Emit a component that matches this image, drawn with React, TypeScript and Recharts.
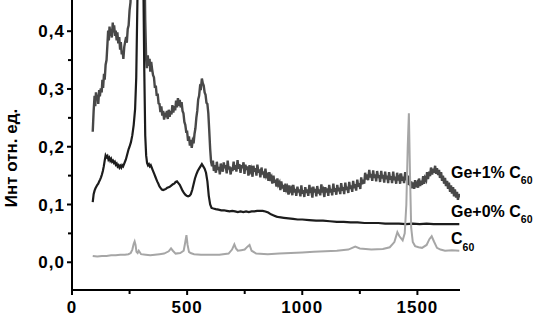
import { LineChart, Line, XAxis, YAxis } from "recharts";

// Raman spectra, x = wavenumber (cm-1), y = relative intensity
const GE1: [number, number][] = [
  [90, 0.226], [94, 0.262], [98, 0.288], [101, 0.27], [104, 0.294], [108, 0.281], [111, 0.29], [114, 0.274],
  [118, 0.298], [121, 0.287], [125, 0.301], [129, 0.294], [132, 0.316], [135, 0.302], [139, 0.326], [142, 0.316],
  [146, 0.342], [150, 0.35], [154, 0.378], [157, 0.401], [160, 0.384], [163, 0.408], [167, 0.392], [170, 0.404],
  [173, 0.389], [177, 0.415], [180, 0.398], [183, 0.41], [187, 0.392], [190, 0.401], [194, 0.384], [197, 0.398],
  [201, 0.379], [205, 0.39], [209, 0.368], [212, 0.381], [216, 0.36], [220, 0.366], [223, 0.352], [227, 0.373],
  [231, 0.382], [235, 0.39], [238, 0.38], [242, 0.404], [246, 0.41], [250, 0.436], [254, 0.45], [258, 0.5],
  [266, 0.62], [280, 0.85], [295, 1.0], [305, 0.9], [312, 0.6], [318, 0.42], [322, 0.352], [325, 0.336],
  [329, 0.358], [333, 0.34], [337, 0.352], [340, 0.33], [344, 0.347], [348, 0.334], [352, 0.324], [356, 0.32],
  [360, 0.302], [364, 0.306], [368, 0.288], [372, 0.292], [376, 0.275], [380, 0.274], [384, 0.26], [388, 0.27],
  [392, 0.254], [396, 0.262], [400, 0.247], [404, 0.259], [408, 0.251], [412, 0.262], [416, 0.248], [420, 0.264],
  [424, 0.252], [428, 0.262], [432, 0.256], [436, 0.272], [440, 0.259], [444, 0.27], [448, 0.263], [452, 0.28],
  [456, 0.268], [460, 0.284], [464, 0.271], [468, 0.281], [472, 0.268], [476, 0.277], [480, 0.262], [484, 0.258],
  [488, 0.243], [492, 0.238], [496, 0.226], [500, 0.226], [504, 0.21], [508, 0.218], [512, 0.202], [516, 0.212],
  [520, 0.198], [524, 0.21], [528, 0.206], [532, 0.222], [536, 0.232], [540, 0.25], [544, 0.262], [548, 0.282],
  [552, 0.288], [556, 0.304], [560, 0.302], [564, 0.318], [568, 0.31], [572, 0.306], [576, 0.294], [580, 0.29],
  [584, 0.276], [588, 0.274], [592, 0.258], [596, 0.228], [600, 0.196], [604, 0.174], [608, 0.166], [612, 0.176],
  [616, 0.158], [620, 0.168], [625, 0.155], [629, 0.174], [633, 0.16], [638, 0.165], [642, 0.152], [646, 0.171],
  [650, 0.162], [655, 0.157], [659, 0.173], [663, 0.163], [667, 0.168], [672, 0.154], [676, 0.176], [680, 0.161],
  [684, 0.166], [689, 0.152], [693, 0.164], [697, 0.158], [702, 0.174], [706, 0.16], [710, 0.168], [714, 0.157],
  [719, 0.177], [723, 0.162], [727, 0.17], [732, 0.155], [736, 0.168], [740, 0.163], [745, 0.173], [749, 0.153],
  [753, 0.169], [758, 0.16], [762, 0.166], [766, 0.15], [771, 0.168], [775, 0.158], [779, 0.162], [784, 0.148],
  [788, 0.167], [792, 0.157], [797, 0.163], [801, 0.15], [805, 0.169], [810, 0.155], [814, 0.161], [818, 0.147],
  [823, 0.164], [827, 0.152], [831, 0.157], [836, 0.146], [840, 0.162], [844, 0.15], [849, 0.155], [853, 0.141],
  [857, 0.156], [862, 0.145], [866, 0.148], [870, 0.136], [875, 0.15], [879, 0.138], [883, 0.143], [888, 0.131],
  [892, 0.145], [896, 0.134], [901, 0.138], [905, 0.125], [909, 0.14], [914, 0.128], [918, 0.134], [922, 0.122],
  [927, 0.136], [931, 0.126], [935, 0.13], [940, 0.117], [944, 0.133], [948, 0.124], [953, 0.128], [957, 0.116],
  [961, 0.134], [966, 0.121], [970, 0.127], [974, 0.115], [979, 0.131], [983, 0.121], [987, 0.126], [992, 0.114],
  [996, 0.133], [1000, 0.119], [1005, 0.125], [1009, 0.113], [1013, 0.13], [1018, 0.12], [1022, 0.126], [1026, 0.115],
  [1031, 0.134], [1035, 0.12], [1039, 0.124], [1044, 0.112], [1048, 0.131], [1052, 0.121], [1057, 0.127], [1061, 0.114],
  [1065, 0.132], [1070, 0.119], [1074, 0.126], [1078, 0.116], [1083, 0.135], [1087, 0.121], [1091, 0.125], [1096, 0.113],
  [1100, 0.13], [1104, 0.121], [1109, 0.128], [1113, 0.115], [1117, 0.134], [1122, 0.121], [1126, 0.127], [1130, 0.116],
  [1135, 0.136], [1139, 0.122], [1143, 0.128], [1148, 0.117], [1152, 0.134], [1156, 0.123], [1161, 0.129], [1165, 0.118],
  [1169, 0.137], [1174, 0.124], [1178, 0.13], [1182, 0.118], [1187, 0.138], [1191, 0.125], [1195, 0.131], [1200, 0.12],
  [1204, 0.139], [1208, 0.127], [1213, 0.133], [1217, 0.122], [1221, 0.141], [1226, 0.128], [1230, 0.135], [1234, 0.124],
  [1239, 0.143], [1243, 0.131], [1247, 0.137], [1252, 0.127], [1256, 0.147], [1260, 0.135], [1265, 0.143], [1269, 0.136],
  [1273, 0.155], [1278, 0.143], [1282, 0.152], [1286, 0.142], [1291, 0.16], [1295, 0.147], [1299, 0.153], [1304, 0.141],
  [1308, 0.159], [1312, 0.146], [1317, 0.152], [1321, 0.14], [1325, 0.158], [1330, 0.146], [1334, 0.151], [1338, 0.139],
  [1343, 0.158], [1347, 0.145], [1351, 0.151], [1356, 0.138], [1360, 0.157], [1364, 0.144], [1369, 0.15], [1373, 0.137],
  [1377, 0.156], [1382, 0.143], [1386, 0.149], [1390, 0.137], [1395, 0.157], [1399, 0.142], [1403, 0.148], [1408, 0.136],
  [1412, 0.155], [1416, 0.142], [1421, 0.147], [1425, 0.136], [1429, 0.154], [1434, 0.141], [1438, 0.148], [1442, 0.137],
  [1447, 0.156], [1451, 0.142], [1455, 0.149], [1460, 0.134], [1464, 0.15], [1468, 0.132], [1473, 0.14], [1477, 0.128],
  [1481, 0.138], [1486, 0.127], [1490, 0.142], [1494, 0.13], [1499, 0.136], [1503, 0.129], [1507, 0.145], [1512, 0.132],
  [1516, 0.141], [1520, 0.134], [1525, 0.149], [1529, 0.136], [1533, 0.146], [1538, 0.142], [1542, 0.156], [1546, 0.144],
  [1551, 0.157], [1555, 0.149], [1559, 0.164], [1564, 0.152], [1568, 0.162], [1572, 0.155], [1577, 0.167], [1581, 0.153],
  [1585, 0.163], [1590, 0.151], [1594, 0.16], [1598, 0.146], [1603, 0.156], [1607, 0.141], [1611, 0.15], [1616, 0.136],
  [1620, 0.146], [1624, 0.132], [1629, 0.141], [1633, 0.127], [1637, 0.138], [1642, 0.122], [1646, 0.133], [1650, 0.119],
  [1655, 0.13], [1659, 0.114], [1663, 0.126], [1668, 0.112], [1672, 0.122], [1676, 0.108], [1680, 0.118], [1683, 0.112],
];

const GE0: [number, number][] = [
  [90, 0.104], [94, 0.118], [98, 0.124], [102, 0.128], [106, 0.131], [110, 0.134], [114, 0.136], [118, 0.14],
  [122, 0.143], [126, 0.147], [130, 0.152], [134, 0.158], [138, 0.166], [142, 0.176], [146, 0.185], [150, 0.182],
  [154, 0.184], [158, 0.178], [162, 0.181], [166, 0.176], [170, 0.179], [174, 0.174], [178, 0.176], [182, 0.172],
  [186, 0.174], [190, 0.169], [194, 0.171], [198, 0.166], [202, 0.168], [206, 0.164], [210, 0.167], [214, 0.164],
  [218, 0.168], [222, 0.166], [226, 0.17], [230, 0.174], [234, 0.178], [238, 0.184], [242, 0.19], [246, 0.196],
  [250, 0.2], [256, 0.208], [262, 0.22], [268, 0.238], [274, 0.265], [279, 0.32], [284, 0.45], [290, 0.65],
  [297, 0.82], [304, 0.68], [310, 0.48], [314, 0.33], [318, 0.22], [322, 0.185], [326, 0.172], [330, 0.168],
  [334, 0.17], [338, 0.166], [342, 0.168], [346, 0.164], [350, 0.16], [354, 0.156], [358, 0.152], [362, 0.148],
  [366, 0.144], [370, 0.14], [374, 0.137], [378, 0.133], [382, 0.13], [386, 0.128], [390, 0.126], [396, 0.125],
  [402, 0.126], [408, 0.127], [414, 0.129], [420, 0.13], [426, 0.131], [432, 0.133], [438, 0.135], [444, 0.136],
  [450, 0.139], [456, 0.14], [462, 0.137], [468, 0.134], [474, 0.129], [480, 0.124], [486, 0.12], [492, 0.117],
  [498, 0.115], [504, 0.114], [510, 0.115], [516, 0.118], [522, 0.125], [528, 0.135], [534, 0.145], [540, 0.152],
  [546, 0.158], [552, 0.162], [558, 0.166], [564, 0.17], [570, 0.166], [576, 0.162], [582, 0.155], [588, 0.14],
  [594, 0.115], [600, 0.1], [606, 0.094], [614, 0.093], [624, 0.092], [636, 0.091], [648, 0.09], [660, 0.09],
  [672, 0.089], [684, 0.088], [696, 0.089], [708, 0.088], [720, 0.087], [732, 0.088], [744, 0.087], [756, 0.088],
  [768, 0.087], [780, 0.088], [792, 0.088], [804, 0.089], [816, 0.089], [828, 0.089], [840, 0.088], [852, 0.086],
  [864, 0.083], [876, 0.081], [888, 0.079], [900, 0.078], [920, 0.077], [940, 0.076], [960, 0.075], [980, 0.074],
  [1000, 0.074], [1030, 0.073], [1060, 0.072], [1090, 0.072], [1120, 0.071], [1150, 0.07], [1180, 0.07], [1210, 0.069],
  [1240, 0.069], [1270, 0.068], [1300, 0.068], [1330, 0.068], [1360, 0.067], [1390, 0.067], [1420, 0.067], [1450, 0.066],
  [1480, 0.067], [1510, 0.066], [1540, 0.067], [1570, 0.066], [1600, 0.066], [1630, 0.066], [1660, 0.066], [1682, 0.066],
];

const C60: [number, number][] = [
  [90, 0.011], [110, 0.01], [130, 0.011], [150, 0.011], [170, 0.012], [190, 0.012], [210, 0.013], [230, 0.013],
  [245, 0.014], [255, 0.016], [262, 0.022], [268, 0.032], [272, 0.036], [276, 0.03], [280, 0.018], [285, 0.016],
  [290, 0.02], [295, 0.017], [300, 0.014], [320, 0.013], [340, 0.012], [360, 0.013], [380, 0.014], [400, 0.015],
  [420, 0.019], [430, 0.024], [438, 0.02], [450, 0.015], [470, 0.016], [485, 0.02], [492, 0.035], [497, 0.047],
  [502, 0.03], [508, 0.018], [515, 0.016], [530, 0.014], [560, 0.013], [600, 0.013], [640, 0.013], [680, 0.015],
  [695, 0.022], [705, 0.031], [712, 0.024], [720, 0.02], [735, 0.021], [750, 0.022], [762, 0.027], [771, 0.03],
  [780, 0.02], [800, 0.015], [850, 0.014], [900, 0.015], [950, 0.016], [1000, 0.017], [1050, 0.018], [1100, 0.019],
  [1150, 0.02], [1200, 0.022], [1230, 0.027], [1250, 0.024], [1300, 0.022], [1350, 0.023], [1380, 0.026], [1400, 0.035],
  [1413, 0.052], [1422, 0.045], [1436, 0.038], [1445, 0.05], [1452, 0.1], [1458, 0.2], [1463, 0.258], [1468, 0.15],
  [1473, 0.06], [1480, 0.035], [1490, 0.028], [1505, 0.026], [1520, 0.025], [1540, 0.03], [1552, 0.04], [1562, 0.045],
  [1572, 0.036], [1585, 0.025], [1600, 0.022], [1620, 0.02], [1650, 0.021], [1682, 0.02],
];

const X_TICKS = [0, 250, 500, 750, 1000, 1250, 1500];
const Y_TICKS = [0, 0.05, 0.1, 0.15, 0.2, 0.25, 0.3, 0.35, 0.4];

const toRows = (pts: [number, number][]) => pts.map(([x, y]) => ({ x, y }));

const FONT = "'Liberation Sans', Arial, sans-serif";

const XTick = ({ x, y, payload }: any) => {
  const major = payload.value % 500 === 0;
  return (
    <g>
      <line x1={x} x2={x} y1={y} y2={y + (major ? 5 : 4)} stroke="#000" strokeWidth={2} />
      {major && (
        <text x={x} y={y + 23} textAnchor="middle" fontFamily={FONT} fontWeight="bold" fontSize={17} letterSpacing={1} fill="#000">
          {payload.value}
        </text>
      )}
    </g>
  );
};

const YTick = ({ x, y, payload }: any) => {
  const major = Math.round(payload.value * 100) % 10 === 0;
  return (
    <g>
      <line x1={x - (major ? 5 : 4)} x2={x} y1={y} y2={y} stroke="#000" strokeWidth={2} />
      {major && (
        <text x={x - 7} y={y + 6} textAnchor="end" fontFamily={FONT} fontWeight="bold" fontSize={17} letterSpacing={1} fill="#000">
          {payload.value.toFixed(1).replace(".", ",")}
        </text>
      )}
    </g>
  );
};

export default function App() {
  return (
    <div style={{ position: "absolute", left: 0, top: 0, width: 535, height: 316, background: "#fff" }}>
      <LineChart width={535} height={316} margin={{ top: 0, right: 75, bottom: 0, left: 0 }}>
        <XAxis
          dataKey="x"
          type="number"
          domain={[0, 1685]}
          ticks={X_TICKS}
          allowDataOverflow
          height={26}
          tickSize={0}
          tickMargin={0}
          tickLine={false}
          tick={<XTick />}
          axisLine={{ stroke: "#000", strokeWidth: 2 }}
          interval={0}
        />
        <YAxis
          type="number"
          domain={[-0.048, 0.454]}
          ticks={Y_TICKS}
          allowDataOverflow
          width={72}
          tickSize={0}
          tickMargin={0}
          tickLine={false}
          tick={<YTick />}
          axisLine={{ stroke: "#000", strokeWidth: 2 }}
          interval={0}
        />
        <Line data={toRows(GE1)} dataKey="y" type="linear" stroke="#484848" strokeWidth={2.4} dot={false} isAnimationActive={false} />
        <Line data={toRows(GE0)} dataKey="y" type="linear" stroke="#1c1c1c" strokeWidth={2.2} dot={false} isAnimationActive={false} />
        <Line data={toRows(C60)} dataKey="y" type="linear" stroke="#a6a6a6" strokeWidth={2} dot={false} isAnimationActive={false} />
      </LineChart>
      <svg
        width={535}
        height={316}
        style={{ position: "absolute", left: 0, top: 0, pointerEvents: "none" }}
        fontFamily={FONT}
        fontWeight="bold"
        fill="#000"
      >
        <text x={17} y={158} transform="rotate(-90 17 158)" textAnchor="middle" fontSize={17}>
          Инт отн. ед.
        </text>
        <text x={451} y={178} fontSize={16}>
          Ge+1% C<tspan fontSize={10.5} dy={6}>60</tspan>
        </text>
        <text x={451} y={217} fontSize={16}>
          Ge+0% C<tspan fontSize={10.5} dy={6}>60</tspan>
        </text>
        <text x={451} y={244} fontSize={16}>
          C<tspan fontSize={10.5} dy={7}>60</tspan>
        </text>
      </svg>
    </div>
  );
}
